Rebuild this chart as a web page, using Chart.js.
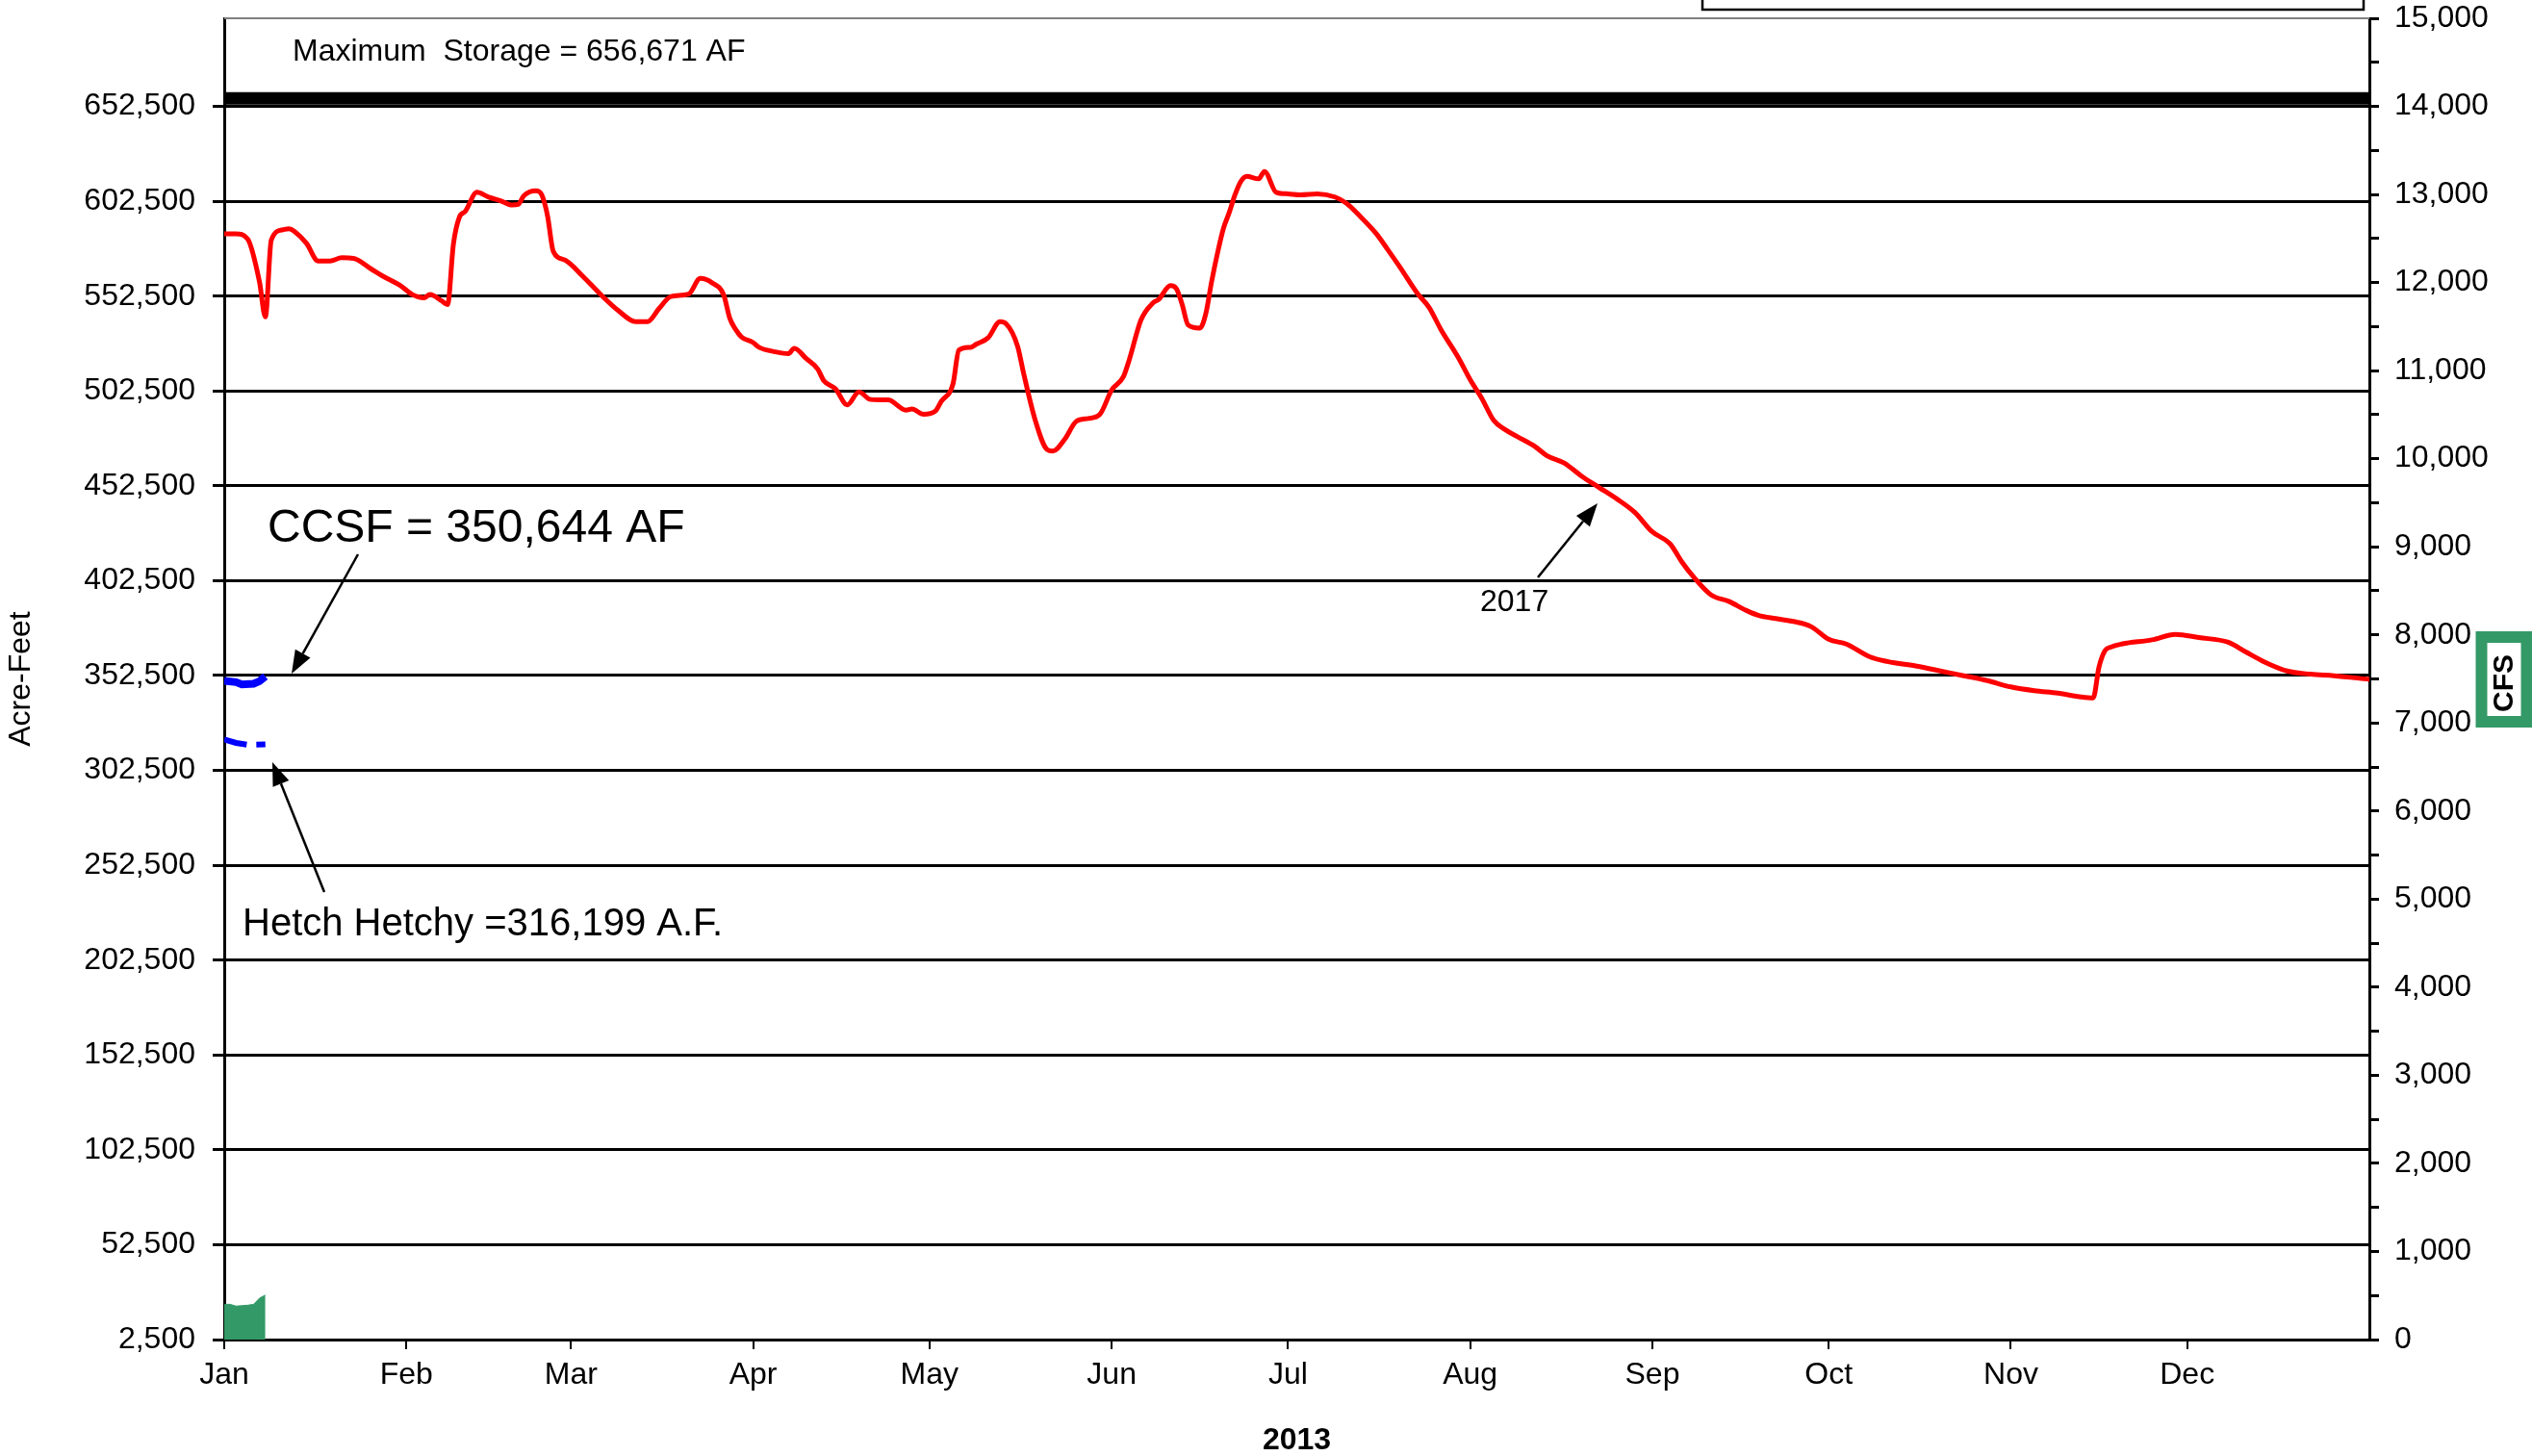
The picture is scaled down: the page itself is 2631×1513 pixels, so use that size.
<!DOCTYPE html>
<html lang="en">
<head>
    <meta charset="UTF-8">
    <title>Reservoir Storage 2013</title>
    <script src="https://cdn.jsdelivr.net/npm/chart.js"></script>
    <style>
        html, body { margin: 0; padding: 0; background: #fff; }
        #wrap { width: 2631px; height: 1513px; position: relative; }
    </style>
</head>
<body>
    <div id="wrap"><canvas id="storageChart"></canvas></div>

    <script>
        // x axis: day of year, ticks at the first of each month
        var monthStarts = [0, 31, 59, 90, 120, 151, 181, 212, 243, 273, 304, 334];
        var monthLabels = ['Jan', 'Feb', 'Mar', 'Apr', 'May', 'Jun', 'Jul', 'Aug', 'Sep', 'Oct', 'Nov', 'Dec'];

        // left axis (acre-feet) and right axis (cfs) tick values
        var afTicks = [2500, 52500, 102500, 152500, 202500, 252500, 302500, 352500, 402500, 452500, 502500, 552500, 602500, 652500];
        var cfsTicks = [0, 500, 1000, 1500, 2000, 2500, 3000, 3500, 4000, 4500, 5000, 5500, 6000, 6500, 7000, 7500,
                        8000, 8500, 9000, 9500, 10000, 10500, 11000, 11500, 12000, 12500, 13000, 13500, 14000, 14500, 15000];

        var maxStorage = 656671;

        // 2017 storage (acre-feet)
        var storageDays = [0, 2, 4, 6, 7, 8, 10, 11, 12, 14, 16, 18, 20, 22, 25, 27, 30, 32, 34, 35, 37, 38, 39, 40, 41, 43, 45, 47, 49, 50,
                           51, 53, 54, 55, 56, 58, 61, 64, 67, 70, 72, 74, 76, 79, 81, 83, 85, 86, 87, 88, 90, 91, 94, 96, 97, 99,
                           101, 102, 104, 106, 108, 110, 113, 116, 117, 119, 121, 122, 124, 125, 127, 128, 130, 132, 133, 135, 136,
                           138, 140, 141, 143, 145, 147, 149, 151, 153, 154, 156, 158, 159, 161, 162, 163, 164, 166, 167, 168, 169,
                           170, 171, 172, 173, 174, 176, 177, 179, 181, 183, 186, 189, 191, 193, 196, 198, 200, 203, 205, 207, 210,
                           212, 214, 216, 218, 220, 223, 225, 228, 231, 234, 237, 240, 243, 246, 248, 250, 253, 256, 259, 261, 264,
                           267, 270, 273, 276, 280, 283, 288, 292, 296, 300, 304, 308, 312, 316, 318, 319, 320, 321, 323, 328, 332,
                           336, 341, 344, 347, 351, 355, 359, 365];
        var storageAF = [585300, 585300, 582500, 560000, 541500, 582000, 587500, 588000, 586500, 580300, 571000, 571000, 572700,
                         572400, 566800, 563000, 558000, 553300, 551600, 553300, 550000, 548000, 580000, 594000, 597100, 607200,
                         604700, 602800, 600500, 600800, 605500, 608000, 606000, 595000, 576000, 571500, 563000, 553500, 545000,
                         539000, 539000, 546000, 552300, 553500, 561800, 559500, 553000, 541000, 535000, 531000, 528000, 525500,
                         523000, 522200, 525000, 519650, 514000, 508000, 503650, 495200, 502000, 498000, 497750, 492400, 493000,
                         490200, 491900, 497000, 506200, 524000, 525500, 527200, 530600, 539000, 538000, 526000, 512000, 487000,
                         471650, 470800, 477000, 486500, 488000, 490200, 503000, 510000, 519000, 540000, 548800, 550800, 558000,
                         556500, 548000, 537300, 535600, 543000, 560000, 575000, 588000, 596500, 606000, 613000, 615600, 614300,
                         618200, 607200, 606400, 605900, 606400, 604700, 601300, 595400, 585500, 576900, 568000, 554000, 546600,
                         535000, 520000, 508500, 498500, 487000, 482000, 478500, 473300, 468500, 464500, 457500, 451500, 445500,
                         438500, 428200, 422000, 412500, 404500, 395000, 391600, 386800, 384300, 382500, 381000, 378300, 371600,
                         369100, 362400, 359900, 357400, 354900, 352400, 349800, 346500, 344500, 343200, 341200, 340700, 357000,
                         365500, 367500, 369200, 371300, 374200, 372500, 370000, 364900, 359900, 354900, 353200, 352400, 350500];

        // current year, first week only
        var ccsfDays = [0, 2, 3, 5, 6, 7];
        var ccsfAF = [349700, 349000, 347800, 348200, 349500, 352000];
        var hetchDays = [0, 2, 4, 7];
        var hetchAF = [318800, 317000, 316000, 316199];
        var flowDays = [0, 1, 2, 3, 4, 5, 6, 7];
        var flowCFS = [400, 400, 380, 385, 390, 400, 470, 505];

        function pts(xs, ys) {
            return xs.map(function (x, i) { return { x: x, y: ys[i] }; });
        }

        var FONT = "'Liberation Sans', Arial, sans-serif";
        Chart.defaults.font.family = FONT;
        Chart.defaults.font.size = 32;
        Chart.defaults.color = '#000';

        function arrow(c, x1, y1, x2, y2) {
            var ang = Math.atan2(y2 - y1, x2 - x1);
            var len = 24, half = 9;
            var bx = x2 - len * Math.cos(ang), by = y2 - len * Math.sin(ang);
            c.beginPath();
            c.moveTo(x1, y1);
            c.lineTo(bx, by);
            c.stroke();
            c.beginPath();
            c.moveTo(x2, y2);
            c.lineTo(bx + half * Math.sin(ang), by - half * Math.cos(ang));
            c.lineTo(bx - half * Math.sin(ang), by + half * Math.cos(ang));
            c.closePath();
            c.fill();
        }

        // vertical axes: keep their label overhang from pushing the plot down
        function noOverhang(s) {
            s.paddingTop = 0;
            s.paddingBottom = 0;
        }

        // labels, arrows, frame bits and the CFS box
        var notes = {
            id: 'notes',
            afterDraw: function (chart) {
                var c = chart.ctx, a = chart.chartArea;
                c.save();
                c.strokeStyle = '#808080';
                c.lineWidth = 2;
                c.beginPath();
                c.moveTo(a.left, a.top);
                c.lineTo(a.right, a.top);
                c.stroke();

                // legend box, mostly off the top of the page
                c.strokeStyle = '#000';
                c.lineWidth = 2.5;
                c.strokeRect(1769, -10, 687, 20);

                c.fillStyle = '#000';
                c.textAlign = 'left';
                c.textBaseline = 'alphabetic';
                c.font = '32px ' + FONT;
                c.fillText('Maximum  Storage = 656,671 AF', 304, 63);
                c.fillText('2017', 1538, 635);
                c.font = '48px ' + FONT;
                c.fillText('CCSF = 350,644 AF', 278, 563);
                c.font = '40px ' + FONT;
                c.fillText('Hetch Hetchy =316,199 A.F.', 252, 972);

                c.lineWidth = 2.5;
                arrow(c, 372, 576, 303, 700);
                arrow(c, 337, 927, 283, 792);
                arrow(c, 1598, 600, 1660, 523);

                c.strokeStyle = '#339966';
                c.lineWidth = 12;
                c.strokeRect(2578.5, 662, 47, 88);
                c.translate(2603, 710);
                c.rotate(-Math.PI / 2);
                c.font = 'bold 30px ' + FONT;
                c.textAlign = 'center';
                c.textBaseline = 'middle';
                c.fillText('CFS', 0, 0);
                c.restore();
            }
        };

        var ctx = document.getElementById('storageChart').getContext('2d');
        var chart = new Chart(ctx, {
            type: 'line',
            data: {
                datasets: [{
                    label: 'Maximum Storage',
                    data: pts([0, 365], [maxStorage, maxStorage]),
                    borderColor: '#000',
                    borderWidth: 13,
                    pointRadius: 0,
                    yAxisID: 'yAF'
                }, {
                    label: '2017',
                    data: pts(storageDays, storageAF),
                    borderColor: '#ff0000',
                    borderWidth: 5,
                    pointRadius: 0,
                    cubicInterpolationMode: 'monotone',
                    yAxisID: 'yAF'
                }, {
                    label: 'CCSF',
                    data: pts(ccsfDays, ccsfAF),
                    borderColor: '#0000ff',
                    borderWidth: 8,
                    pointRadius: 0,
                    yAxisID: 'yAF'
                }, {
                    label: 'Hetch Hetchy',
                    data: pts(hetchDays, hetchAF),
                    borderColor: '#0000ff',
                    borderWidth: 6,
                    borderDash: [24, 10, 10, 10],
                    pointRadius: 0,
                    yAxisID: 'yAF'
                }, {
                    label: 'Flow',
                    data: pts(flowDays, flowCFS),
                    borderColor: '#339966',
                    backgroundColor: '#339966',
                    borderWidth: 1,
                    fill: 'origin',
                    pointRadius: 0,
                    yAxisID: 'yCFS'
                }]
            },
            options: {
                responsive: true,
                maintainAspectRatio: false,
                animation: false,
                layout: { padding: { top: 19, left: 0, right: 0, bottom: 0 } },
                plugins: {
                    legend: { display: false },
                    tooltip: { enabled: false }
                },
                scales: {
                    x: {
                        type: 'linear',
                        min: 0,
                        max: 365,
                        afterBuildTicks: function (s) {
                            s.ticks = monthStarts.map(function (v) { return { value: v }; });
                        },
                        afterFit: function (s) { s.height = 121; },
                        ticks: {
                            autoSkip: false,
                            maxRotation: 0,
                            padding: 8,
                            callback: function (v) { return monthLabels[monthStarts.indexOf(v)]; }
                        },
                        grid: { drawOnChartArea: false, color: '#000', lineWidth: 2, tickLength: 10 },
                        border: { color: '#000', width: 3 },
                        title: {
                            display: true,
                            text: '2013',
                            font: { size: 32, weight: 'bold', lineHeight: 1 },
                            padding: { top: 0, bottom: 0 }
                        }
                    },
                    yAF: {
                        position: 'left',
                        min: 2500,
                        max: 2500 + 650000 * 15 / 14,
                        afterBuildTicks: function (s) {
                            s.ticks = afTicks.map(function (v) { return { value: v }; });
                        },
                        afterFit: function (s) { s.width = 233; noOverhang(s); },
                        ticks: {
                            autoSkip: false,
                            padding: 18,
                            callback: function (v) { return v.toLocaleString('en-US'); }
                        },
                        grid: { color: '#000', lineWidth: 3, tickLength: 12 },
                        border: { color: '#000', width: 3 },
                        title: {
                            display: true,
                            text: 'Acre-Feet',
                            font: { size: 32, lineHeight: 1 },
                            padding: { top: 6, bottom: 0 }
                        }
                    },
                    yCFS: {
                        position: 'right',
                        min: 0,
                        max: 15000,
                        afterBuildTicks: function (s) {
                            s.ticks = cfsTicks.map(function (v) { return { value: v }; });
                        },
                        afterFit: function (s) { s.width = 169; noOverhang(s); },
                        ticks: {
                            autoSkip: false,
                            padding: 16,
                            callback: function (v) { return v % 1000 === 0 ? v.toLocaleString('en-US') : ''; }
                        },
                        grid: { drawOnChartArea: false, color: '#000', lineWidth: 3, tickLength: 10 },
                        border: { color: '#000', width: 3 }
                    }
                }
            },
            plugins: [notes]
        });
    </script>
</body>
</html>
